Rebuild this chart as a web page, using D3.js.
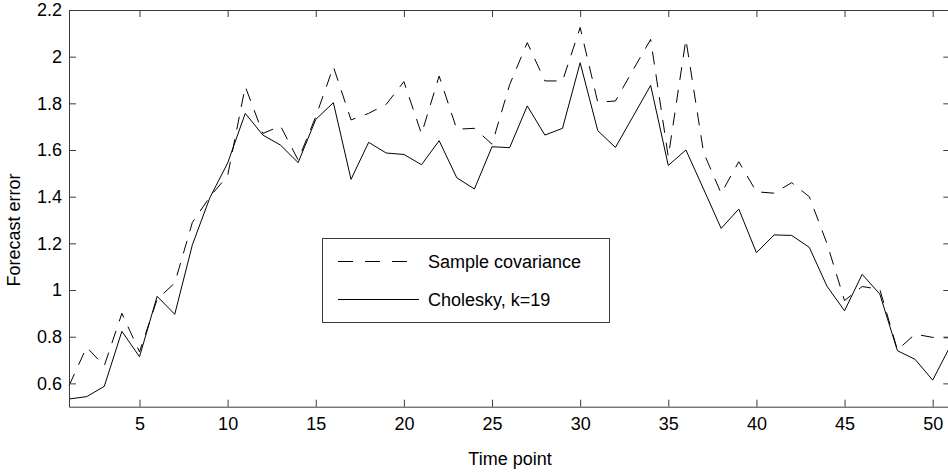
<!DOCTYPE html>
<html>
<head>
<meta charset="utf-8">
<script src="https://cdn.jsdelivr.net/npm/d3@7"></script>
<style>
  html, body { margin: 0; padding: 0; background: #fff; }
  svg { display: block; }
  text { font-family: "Liberation Sans", Arial, Helvetica, sans-serif; fill: #000; }
</style>
</head>
<body>
<svg id="chart" width="948" height="472"></svg>
<script>
// ---- data ----
const timePoints = d3.range(1, 52);
const sampleCovariance = [0.59, 0.755, 0.675, 0.9, 0.735, 0.96, 1.03, 1.29, 1.40, 1.49,
  1.872, 1.671, 1.703, 1.557, 1.743, 1.957, 1.729, 1.757, 1.796, 1.893,
  1.669, 1.917, 1.689, 1.693, 1.625, 1.88, 2.06, 1.896, 1.896, 2.125,
  1.805, 1.81, 1.943, 2.074, 1.571, 2.074, 1.59, 1.414, 1.55, 1.421,
  1.415, 1.46, 1.4, 1.2, 0.955, 1.015, 1.003, 0.743, 0.811, 0.797, 0.795];
const cholesky = [0.533, 0.543, 0.587, 0.823, 0.714, 0.973, 0.896, 1.194, 1.397, 1.544,
  1.757, 1.664, 1.621, 1.546, 1.731, 1.803, 1.474, 1.633, 1.587, 1.581,
  1.537, 1.64, 1.481, 1.433, 1.614, 1.61, 1.789, 1.664, 1.693, 1.974,
  1.683, 1.611, 1.744, 1.877, 1.534, 1.6, 1.433, 1.264, 1.347, 1.16,
  1.236, 1.234, 1.183, 1.017, 0.911, 1.067, 0.983, 0.74, 0.703, 0.614, 0.76];
const xTicks = [5, 10, 15, 20, 25, 30, 35, 40, 45, 50];
const yTicks = [0.6, 0.8, 1, 1.2, 1.4, 1.6, 1.8, 2, 2.2];
const seriesNames = ["Sample covariance", "Cholesky, k=19"];
const xLabel = "Time point";
const yLabel = "Forecast error";

// ---- layout ----
const L = 69, R = 950.3, T = 10, B = 406.7;
const svg = d3.select("#chart");
const x = d3.scaleLinear().domain([1, 51]).range([L, R]);
const y = d3.scaleLinear().domain([0.5, 2.2]).range([B, T]);
const fs = 18;
const axisColor = "#3a3a3a";

// lines
const line = d3.line().x((d, i) => x(timePoints[i])).y(d => y(d));
svg.append("path").datum(sampleCovariance)
  .attr("d", line).attr("fill", "none").attr("stroke", "#000")
  .attr("stroke-width", 1).attr("stroke-dasharray", "13,10");
svg.append("path").datum(cholesky)
  .attr("d", line).attr("fill", "none").attr("stroke", "#000")
  .attr("stroke-width", 1);

// axes (MATLAB style box with inward ticks)
const tickLen = 7;
const xAxisB = d3.axisBottom(x).tickValues(xTicks).tickSizeInner(-tickLen).tickSizeOuter(0).tickPadding(11).tickFormat(d3.format("d"));
const xAxisT = d3.axisTop(x).tickValues(xTicks).tickSizeInner(-tickLen).tickSizeOuter(0).tickFormat("");
const yAxisL = d3.axisLeft(y).tickValues(yTicks).tickSizeInner(-tickLen).tickSizeOuter(0).tickPadding(7).tickFormat(d => d3.format("")(d));
const yAxisR = d3.axisRight(y).tickValues(yTicks).tickSizeInner(-tickLen).tickSizeOuter(0).tickFormat("");

function style(g) {
  g.selectAll("path.domain").attr("stroke", axisColor).attr("stroke-width", 1);
  g.selectAll(".tick line").attr("stroke", axisColor).attr("stroke-width", 1);
  g.selectAll(".tick text").attr("font-size", fs).attr("font-family", "Liberation Sans, Arial, sans-serif").attr("fill", "#000");
}
svg.append("g").attr("transform", `translate(0,${B})`).call(xAxisB).call(style);
svg.append("g").attr("transform", `translate(0,${T})`).call(xAxisT).call(style);
svg.append("g").attr("transform", `translate(${L},0)`).call(yAxisL).call(style);
svg.append("g").attr("transform", `translate(${R},0)`).call(yAxisR).call(style);

// axis labels
svg.append("text").attr("x", 510).attr("y", 465)
  .attr("text-anchor", "middle").attr("font-size", fs).text(xLabel);
svg.append("text").attr("transform", `translate(20,230) rotate(-90)`)
  .attr("text-anchor", "middle").attr("font-size", fs).text(yLabel);

// legend
const lg = svg.append("g");
lg.append("rect").attr("x", 322.5).attr("y", 238.5).attr("width", 287).attr("height", 84)
  .attr("fill", "#fff").attr("stroke", axisColor).attr("stroke-width", 1);
const lgY = [261.5, 299.5];
const dashes = ["15,12", null];
seriesNames.forEach((name, i) => {
  const l = lg.append("line").attr("x1", 338).attr("x2", 419)
    .attr("y1", lgY[i]).attr("y2", lgY[i]).attr("stroke", "#000").attr("stroke-width", 1);
  if (dashes[i]) l.attr("stroke-dasharray", dashes[i]);
  lg.append("text").attr("x", 428).attr("y", lgY[i]).attr("dy", "0.35em")
    .attr("font-size", 18).text(name);
});
</script>
</body>
</html>
